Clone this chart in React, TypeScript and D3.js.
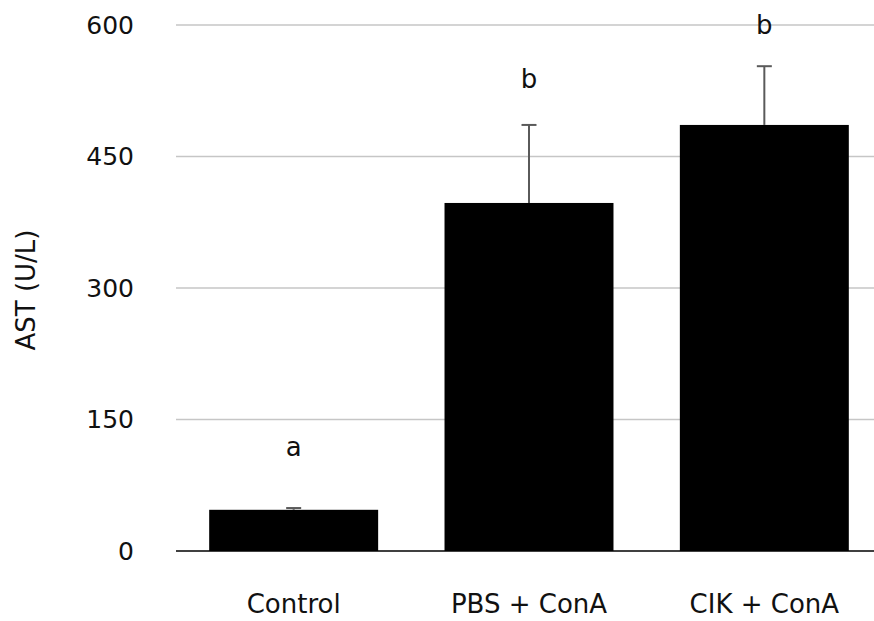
import React, { useEffect, useRef } from 'react';
import * as d3 from 'd3';

const groups = ['Control', 'PBS + ConA', 'CIK + ConA'];
const means = [47, 397, 486];
const errors = [2, 89, 67];
const letters = ['a', 'b', 'b'];
const letterY = [108, 528, 590];
const yTicks = [0, 150, 300, 450, 600];

const App = () => {
  const ref = useRef<SVGSVGElement | null>(null);

  useEffect(() => {
    const width = 874;
    const height = 621;
    const font = 'DejaVu Sans';

    const svg = d3.select(ref.current).attr('width', width).attr('height', height);
    svg.selectAll('*').remove();

    const x = d3.scaleBand().domain(groups).range([176, 882]).paddingInner(0.282).paddingOuter(0.141);
    const y = d3.scaleLinear().domain([0, 600]).range([551, 25]);

    // gridlines
    svg.append('g').selectAll('line').data(yTicks.filter(d => d > 0)).join('line')
      .attr('x1', 176).attr('x2', 882)
      .attr('y1', d => y(d)).attr('y2', d => y(d))
      .attr('stroke', '#c6c6c6').attr('stroke-width', 1.5);

    // tick labels
    svg.append('g').selectAll('text').data(yTicks).join('text')
      .attr('x', 134).attr('y', d => y(d)).attr('dy', '0.35em')
      .attr('text-anchor', 'end')
      .style('font-family', font).style('font-size', '25px').attr('fill', '#111')
      .text(d => d);

    // bars
    svg.append('g').selectAll('rect').data(means).join('rect')
      .attr('x', (d, i) => x(groups[i])!)
      .attr('width', x.bandwidth())
      .attr('y', d => y(d))
      .attr('height', d => y(0) - y(d))
      .attr('fill', '#000');

    // error bars (upper only)
    const eg = svg.append('g').attr('stroke', '#5a5a5a').attr('stroke-width', 2);
    means.forEach((m, i) => {
      const cx = x(groups[i])! + x.bandwidth() / 2;
      eg.append('line').attr('x1', cx).attr('x2', cx).attr('y1', y(m)).attr('y2', y(m + errors[i]));
      eg.append('line').attr('x1', cx - 7.5).attr('x2', cx + 7.5).attr('y1', y(m + errors[i])).attr('y2', y(m + errors[i]));
    });

    // axis line
    svg.append('line').attr('x1', 176).attr('x2', 882).attr('y1', y(0)).attr('y2', y(0))
      .attr('stroke', '#000').attr('stroke-width', 1.5);

    // significance letters
    svg.append('g').selectAll('text').data(letters).join('text')
      .attr('x', (d, i) => x(groups[i])! + x.bandwidth() / 2)
      .attr('y', (d, i) => y(letterY[i]))
      .attr('text-anchor', 'middle')
      .style('font-family', font).style('font-size', '26px').attr('fill', '#111')
      .text(d => d);

    // category labels
    svg.append('g').selectAll('text').data(groups).join('text')
      .attr('x', d => x(d)! + x.bandwidth() / 2)
      .attr('y', 613)
      .attr('text-anchor', 'middle')
      .style('font-family', font).style('font-size', '26px').attr('fill', '#111')
      .text(d => d);

    svg.append('text')
      .attr('transform', 'rotate(-90)')
      .attr('x', -290).attr('y', 35)
      .attr('text-anchor', 'middle')
      .style('font-family', font).style('font-size', '26px').attr('fill', '#111')
      .text('AST (U/L)');
  }, []);

  return (
    <svg ref={ref} style={{ position: 'absolute', left: 0, top: 0, display: 'block', background: '#fff' }} />
  );
};

export default App;
